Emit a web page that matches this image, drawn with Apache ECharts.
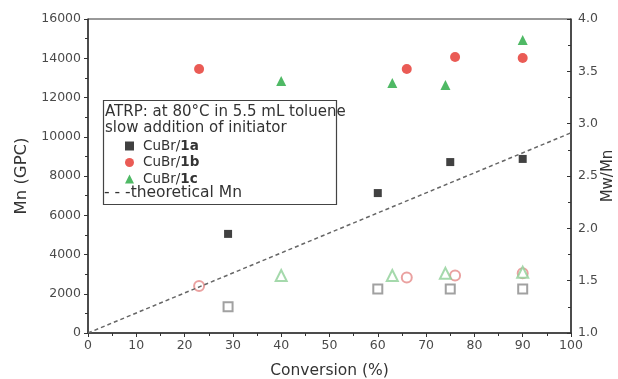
<!DOCTYPE html>
<html>
<head>
<meta charset="utf-8">
<script src="https://cdn.jsdelivr.net/npm/echarts@6/dist/echarts.min.js"></script>
<style>
  html, body { margin: 0; padding: 0; background: #fff; }
  #chart { width: 618px; height: 379px; }
</style>
</head>
<body>
<div id="chart"></div>
<script>
// conversion (%) for each sample
const conv1a = [29, 60, 75, 90]
const conv1b = [23, 66, 76, 90]
const conv1c = [40, 63, 74, 90]

// Mn (GPC), left axis
const mn1a = [5050, 7130, 8710, 8870]
const mn1b = [13450, 13450, 14060, 14010]
const mn1c = [12840, 12740, 12640, 14930]

// Mw/Mn, right axis
const pdi1a = [1.25, 1.42, 1.42, 1.42]
const pdi1b = [1.45, 1.53, 1.55, 1.57]
const pdi1c = [1.55, 1.55, 1.57, 1.58]

// theoretical Mn line
const theoConv = [0, 100]
const theoMn = [0, 10200]

const zip = (xs, ys) => xs.map((x, i) => [x, ys[i]])

const font = '"DejaVu Sans", Arial, sans-serif'
const axisColor = '#333'
const labelColor = '#4a4a4a'

const chart = echarts.init(document.getElementById('chart'))

chart.setOption({
  animation: false,
  textStyle: { fontFamily: font },
  grid: {
    left: 88, right: 47, top: 19, bottom: 46,
    outerBoundsMode: 'none', containLabel: false,
    show: true, borderColor: axisColor, borderWidth: 1,
  },
  xAxis: {
    type: 'value', min: 0, max: 100, interval: 10,
    name: 'Conversion (%)', nameLocation: 'middle', nameGap: 30,
    nameTextStyle: { fontSize: 15.5, color: '#333' },
    axisLine: { lineStyle: { color: axisColor, width: 1.5 } },
    axisTick: { length: 4, lineStyle: { color: axisColor } },
    minorTick: { show: true, splitNumber: 2, length: 3, lineStyle: { color: axisColor } },
    axisLabel: { color: labelColor, fontSize: 12.5, margin: 6 },
    splitLine: { show: false },
  },
  yAxis: [
    {
      type: 'value', min: 0, max: 16000, interval: 2000,
      name: 'Mn (GPC)', nameLocation: 'middle', nameGap: 57, nameRotate: 90,
      nameTextStyle: { fontSize: 16.5, color: '#333' },
      axisLine: { show: true, lineStyle: { color: axisColor, width: 1.5 } },
      axisTick: { show: true, length: 4, lineStyle: { color: axisColor } },
      minorTick: { show: true, splitNumber: 2, length: 3, lineStyle: { color: axisColor } },
      axisLabel: { color: labelColor, fontSize: 12.5, margin: 7, formatter: v => String(v) },
      splitLine: { show: false },
    },
    {
      type: 'value', min: 1, max: 4, interval: 0.5, position: 'right',
      name: 'Mw/Mn', nameLocation: 'middle', nameGap: 30, nameRotate: 90,
      nameMoveOverlap: false,
      nameTextStyle: { fontSize: 15, color: '#333' },
      axisLine: { show: true, lineStyle: { color: axisColor, width: 1.5 } },
      axisTick: { show: true, inside: true, length: 4, lineStyle: { color: axisColor } },
      minorTick: { show: true, splitNumber: 2, length: 3, lineStyle: { color: axisColor } },
      axisLabel: { color: labelColor, fontSize: 12.5, margin: 7, formatter: v => v.toFixed(1) },
      splitLine: { show: false },
    },
  ],
  legend: {
    orient: 'vertical', left: 120, top: 134,
    itemWidth: 9, itemHeight: 9, itemGap: 2.5,
    data: ['CuBr/1a', 'CuBr/1b', 'CuBr/1c'],
    formatter: name => '{n|CuBr/}{b|' + name.slice(5) + '}',
    textStyle: {
      color: '#333', fontSize: 13.5, lineHeight: 14,
      rich: {
        n: { fontSize: 13.5, color: '#333', padding: [0, 0, 0, 4] },
        b: { fontSize: 13.5, color: '#333', fontWeight: 'bold' },
      },
    },
  },
  graphic: [
    {
      type: 'rect', z: 10,
      shape: { x: 103.5, y: 100.5, width: 233, height: 104 },
      style: { fill: 'rgba(255,255,255,0)', stroke: '#444', lineWidth: 1.2 },
    },
    {
      type: 'text', left: 105, top: 105, z: 11,
      style: { text: 'ATRP: at 80°C in 5.5 mL toluene', fill: '#333', font: '15px ' + font },
    },
    {
      type: 'text', left: 105, top: 121, z: 11,
      style: { text: 'slow addition of initiator', fill: '#333', font: '15px ' + font },
    },
    {
      type: 'text', left: 104, top: 185, z: 11,
      style: { text: '- - -theoretical Mn', fill: '#333', font: '15.5px ' + font },
    },
  ],
  series: [
    {
      name: 'theoretical Mn', type: 'line', yAxisIndex: 0,
      data: zip(theoConv, theoMn), symbol: 'none',
      lineStyle: { color: '#666', width: 1.5, type: [4, 3] },
    },
    {
      name: 'CuBr/1a', type: 'scatter', yAxisIndex: 0,
      data: zip(conv1a, mn1a), symbol: 'rect', symbolSize: 8,
      itemStyle: { color: '#111' },
    },
    {
      name: 'CuBr/1b', type: 'scatter', yAxisIndex: 0,
      data: zip(conv1b, mn1b), symbol: 'circle', symbolSize: 10,
      itemStyle: { color: '#e5322b' },
    },
    {
      name: 'CuBr/1c', type: 'scatter', yAxisIndex: 0,
      data: zip(conv1c, mn1c), symbol: 'triangle', symbolSize: 10,
      itemStyle: { color: '#23a83f' },
    },
    {
      name: 'PDI 1a', type: 'scatter', yAxisIndex: 1,
      data: zip(conv1a, pdi1a), symbol: 'emptyRect', symbolSize: 9,
      itemStyle: { color: '#8a8a8a', borderWidth: 1.2 },
    },
    {
      name: 'PDI 1b', type: 'scatter', yAxisIndex: 1,
      data: zip(conv1b, pdi1b), symbol: 'emptyCircle', symbolSize: 10,
      itemStyle: { color: '#e58a88', borderWidth: 1.2 },
    },
    {
      name: 'PDI 1c', type: 'scatter', yAxisIndex: 1,
      data: zip(conv1c, pdi1c), symbol: 'emptyTriangle', symbolSize: 11,
      itemStyle: { color: '#8fcf97', borderWidth: 1.2 },
    },
  ],
})
</script>
</body>
</html>
